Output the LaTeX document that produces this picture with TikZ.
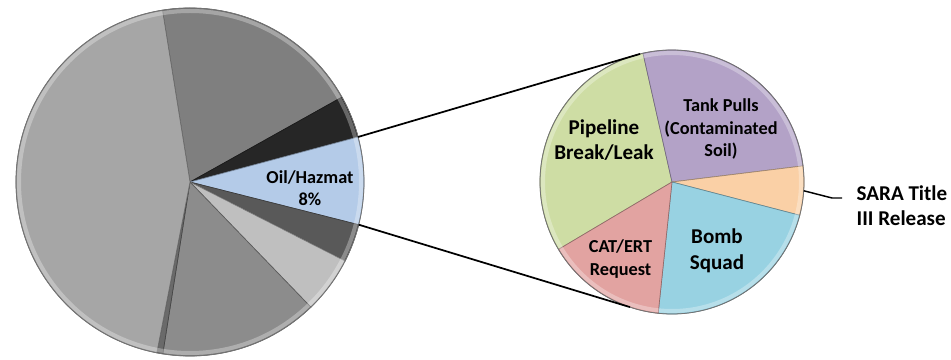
\documentclass[tikz,border=0pt]{standalone}
\usepackage{fontspec}
\setmainfont{Carlito}
\usepackage{tikz}
\usetikzlibrary{calc, positioning}
\usepackage{xcolor}

\definecolor{bigGray}{HTML}{A6A6A6}
\definecolor{topGray}{HTML}{7F7F7F}
\definecolor{nearBlack}{HTML}{262626}
\definecolor{oilBlue}{HTML}{B4CBE8}
\definecolor{darkGray}{HTML}{595959}
\definecolor{paleGray}{HTML}{BFBFBF}
\definecolor{midGray}{HTML}{8C8C8C}
\definecolor{thinGray}{HTML}{6A6A6A}
\definecolor{pipeGreen}{HTML}{CEDDA4}
\definecolor{tankPurple}{HTML}{B3A2C7}
\definecolor{saraOrange}{HTML}{FAD0A6}
\definecolor{bombBlue}{HTML}{98D2E2}
\definecolor{catRed}{HTML}{E2A3A1}

\tikzset{
  slice/.style={fill=#1, draw=#1!65!black, line width=0.5pt},
  bigtext/.style={font=\bfseries\fontsize{15.8}{19.2}\selectfont, align=center},
  smalltext/.style={font=\bfseries\fontsize{13.7}{16.8}\selectfont, align=center},
  connector/.style={draw=black, line width=1.3pt}
}

\begin{document}
\begin{tikzpicture}[x=0.75pt, y=0.75pt]
\useasboundingbox (0,0) rectangle (951,360);

\coordinate (L) at (190,178);
\coordinate (R) at (672,178);

% left pie
\path[slice=topGray] (L) -- ($(L)+(29.2:174)$) arc[start angle=29.2, end angle=99.1, radius=174] -- cycle;
\path[slice=nearBlack] (L) -- ($(L)+(15:174)$) arc[start angle=15, end angle=29.2, radius=174] -- cycle;
\path[slice=oilBlue] (L) -- ($(L)+(-14.2:174)$) arc[start angle=-14.2, end angle=15, radius=174] -- cycle;
\path[slice=darkGray] (L) -- ($(L)+(-27:174)$) arc[start angle=-27, end angle=-14.2, radius=174] -- cycle;
\path[slice=paleGray] (L) -- ($(L)+(-46:174)$) arc[start angle=-46, end angle=-27, radius=174] -- cycle;
\path[slice=midGray] (L) -- ($(L)+(-99:174)$) arc[start angle=-99, end angle=-46, radius=174] -- cycle;
\path[slice=thinGray] (L) -- ($(L)+(-101:174)$) arc[start angle=-101, end angle=-99, radius=174] -- cycle;
\path[slice=bigGray] (L) -- ($(L)+(99.1:174)$) arc[start angle=99.1, end angle=259, radius=174] -- cycle;
\draw[white, opacity=0.3, line width=3pt] (L) circle[radius=171];
\draw[black!55, line width=0.6pt] (L) circle[radius=174];

% right pie
\path[slice=pipeGreen] (R) -- ($(R)+(102.7:132)$) arc[start angle=102.7, end angle=210.7, radius=132] -- cycle;
\path[slice=tankPurple] (R) -- ($(R)+(7:132)$) arc[start angle=7, end angle=102.7, radius=132] -- cycle;
\path[slice=saraOrange] (R) -- ($(R)+(-14.6:132)$) arc[start angle=-14.6, end angle=7, radius=132] -- cycle;
\path[slice=bombBlue] (R) -- ($(R)+(-96:132)$) arc[start angle=-96, end angle=-14.6, radius=132] -- cycle;
\path[slice=catRed] (R) -- ($(R)+(-149.3:132)$) arc[start angle=-149.3, end angle=-96, radius=132] -- cycle;
\draw[white, opacity=0.3, line width=3pt] (R) circle[radius=129];
\draw[black!55, line width=0.6pt] (R) circle[radius=132];

% labels
\node[smalltext] (oil) at (310,171.7) {Oil/Hazmat\\8\%};
\node[bigtext] (pipe) at (604,220) {Pipeline\\Break/Leak};
\node[smalltext] (tank) at (721,230.8) {Tank Pulls\\(Contaminated\\Soil)};
\node[bigtext] (bomb) at (717,109.2) {Bomb\\Squad};
\node[smalltext] (cat) at (620.5,100.8) {CAT/ERT\\Request};
\node[bigtext, align=left, anchor=west] (sara) at (852,154.5) {SARA Title\\III Release};

% connectors
\coordinate (upL) at ($(L)+(15:174)$);
\coordinate (upR) at ($(R)+(104:132)$);
\coordinate (lowL) at ($(L)+(-14.2:174)$);
\coordinate (lowR) at ($(R)+(-108.6:132)$);
\coordinate (saraTip) at ($(R)+(-3.8:132)$);
\coordinate (saraBend) at (832,162);
\coordinate (saraEnd) at (842,162);
\draw[connector] (upL) -- (upR);
\draw[connector] (lowL) -- (lowR);
\draw[black, line width=1.1pt] (saraTip) -- (saraBend) -- (saraEnd);

\end{tikzpicture}
\end{document}
